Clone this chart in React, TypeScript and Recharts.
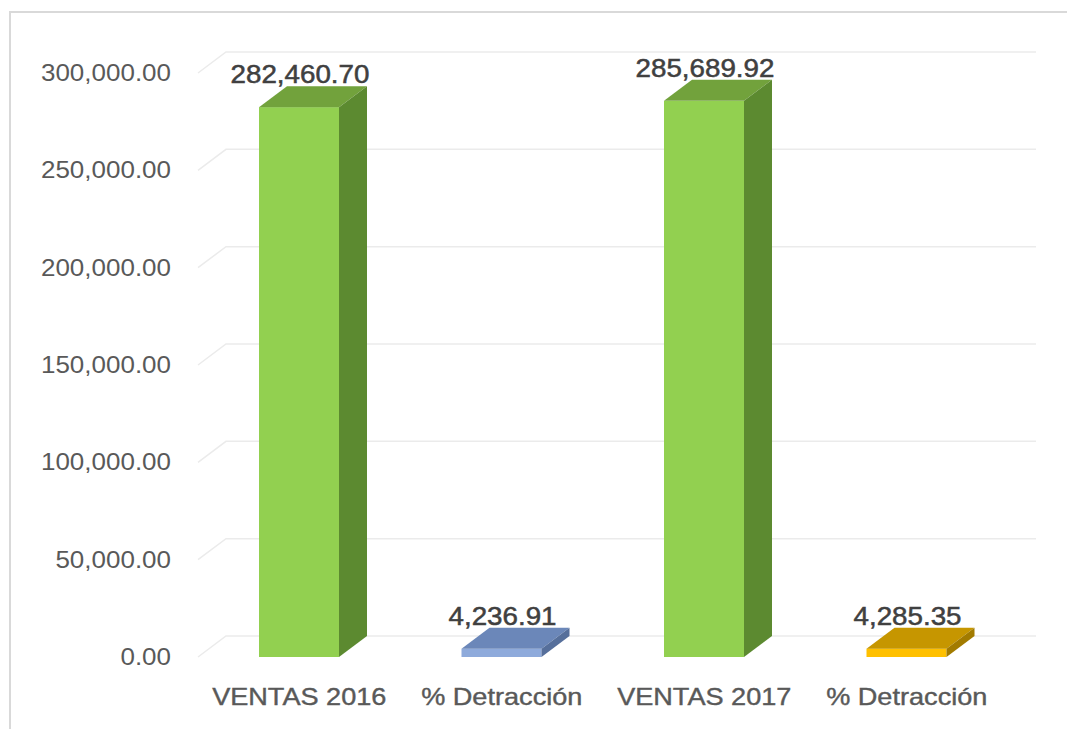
import { BarChart, Bar, XAxis, YAxis, CartesianGrid, LabelList, Cell } from 'recharts';

const categories = ['VENTAS 2016', '% Detracción', 'VENTAS 2017', '% Detracción'];
const values = [282460.7, 4236.91, 285689.92, 4285.35];
const yTicks = [0, 50000, 100000, 150000, 200000, 250000, 300000];

// front / top / side shades per bar
const faces = [
  { front: '#92D050', top: '#72A23C', side: '#5C8A30' },
  { front: '#8EAADB', top: '#6B87B9', side: '#566F9B' },
  { front: '#92D050', top: '#72A23C', side: '#5C8A30' },
  { front: '#FFC000', top: '#C69600', side: '#A27B00' },
];

const DX = 28;
const DY = 21;
const STRETCH = 1.13;
const FONT = '"Liberation Sans", Arial, sans-serif';

const data = categories.map((name, i) => ({ key: `${name}-${i}`, name, value: values[i], idx: i }));

const fmt = (v: number) =>
  v.toLocaleString('en-US', { minimumFractionDigits: 2, maximumFractionDigits: 2 });

function Box3D(props: any) {
  const { x, y, width: w, height: h, payload } = props;
  const c = faces[payload.idx];
  return (
    <g>
      <rect x={x} y={y} width={w} height={h} fill={c.front} />
      <polygon
        points={`${x},${y} ${x + DX},${y - DY} ${x + w + DX},${y - DY} ${x + w},${y}`}
        fill={c.top}
      />
      <polygon
        points={`${x + w},${y} ${x + w + DX},${y - DY} ${x + w + DX},${y + h - DY} ${x + w},${y + h}`}
        fill={c.side}
      />
    </g>
  );
}

function GridLine(props: any) {
  const { x1, y1, x2 } = props;
  return (
    <path
      key={`g-${y1}`}
      d={`M${x1},${y1} L${x1 + DX},${y1 - DY} L${x2 + DX},${y1 - DY}`}
      fill="none"
      stroke="#EBEBEB"
      strokeWidth={1.5}
    />
  );
}

function YTick({ y, payload }: any) {
  return (
    <text
      transform={`translate(171, ${y + 8}) scale(${STRETCH}, 1)`}
      textAnchor="end"
      fontSize={23}
      fontFamily={FONT}
      fill="#595959"
    >
      {fmt(payload.value)}
    </text>
  );
}

function XTick({ x, payload }: any) {
  return (
    <text
      transform={`translate(${x}, 705) scale(${STRETCH}, 1)`}
      textAnchor="middle"
      fontSize={24}
      fontFamily={FONT}
      fill="#595959"
      stroke="#595959"
      strokeWidth={0.4}
    >
      {payload.value}
    </text>
  );
}

function ValueLabel({ x, y, width, value }: any) {
  return (
    <text
      transform={`translate(${x + width / 2 + 1}, ${y - 24}) scale(1.11, 1)`}
      textAnchor="middle"
      fontSize={25}
      fontFamily={FONT}
      fill="#404040"
      stroke="#404040"
      strokeWidth={0.5}
    >
      {fmt(value)}
    </text>
  );
}

export default function App() {
  return (
    <div style={{ position: 'absolute', left: 0, top: 0, width: 1067, height: 729, background: '#fff', overflow: 'hidden' }}>
      <div
        style={{
          position: 'absolute',
          left: 9,
          top: 11,
          width: 1080,
          height: 760,
          borderLeft: '2px solid #D9D9D9',
          borderTop: '2px solid #D9D9D9',
        }}
      />
      <div style={{ position: 'absolute', left: 0, top: 0 }}>
        <BarChart
          width={1067}
          height={729}
          data={data}
          margin={{ top: 73, right: 59, bottom: 42, left: 0 }}
          barSize={80}
        >
          <CartesianGrid vertical={false} horizontal={GridLine} />
          <XAxis
            dataKey="name"
            axisLine={false}
            tickLine={false}
            height={30}
            interval={0}
            tick={<XTick />}
          />
          <YAxis
            width={198}
            domain={[0, 300000]}
            ticks={yTicks}
            axisLine={false}
            tickLine={false}
            tick={<YTick />}
          />
          <Bar dataKey="value" shape={<Box3D />} isAnimationActive={false}>
            {data.map((d) => (
              <Cell key={d.key} fill={faces[d.idx].front} />
            ))}
            <LabelList dataKey="value" content={<ValueLabel />} />
          </Bar>
        </BarChart>
      </div>
    </div>
  );
}
